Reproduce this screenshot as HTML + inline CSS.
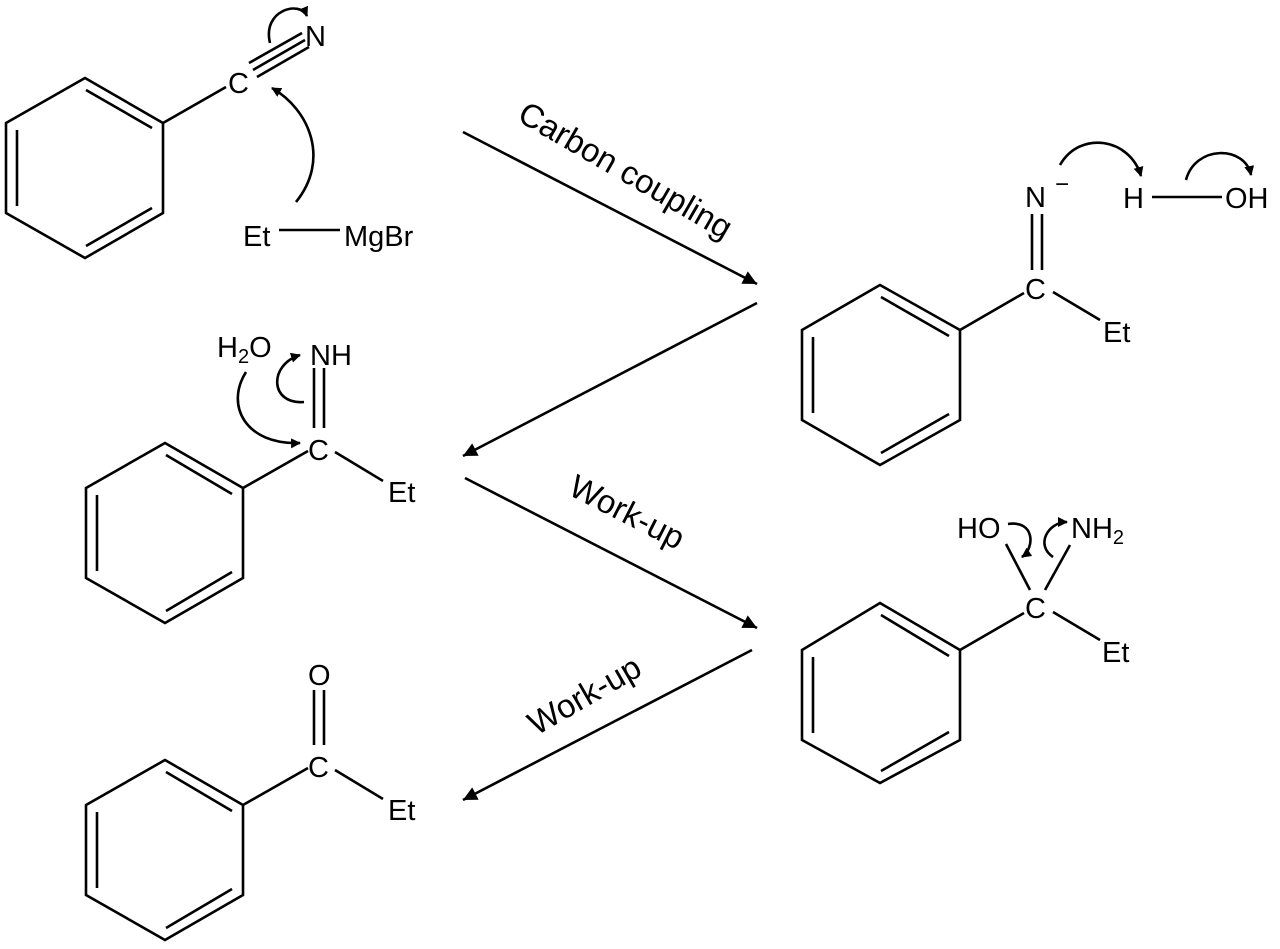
<!DOCTYPE html>
<html><head><meta charset="utf-8"><style>
html,body{margin:0;padding:0;background:#fff;}
svg{display:block;}
text{font-family:"Liberation Sans",Arial,sans-serif;font-size:29px;fill:#000;}
</style></head><body>
<svg width="1280" height="949" viewBox="0 0 1280 949" xmlns="http://www.w3.org/2000/svg">
<defs>
<marker id="ah" viewBox="0 0 10 10" refX="9" refY="5" markerWidth="10" markerHeight="10" markerUnits="userSpaceOnUse" orient="auto"><path d="M0,0 L10,5 L0,10 z" fill="#000"/></marker>
<marker id="big" viewBox="0 0 10 10" refX="10" refY="5" markerWidth="18" markerHeight="14" markerUnits="userSpaceOnUse" orient="auto"><path d="M0,0 L10,5 L0,10 z" fill="#000"/></marker>
</defs>
<g stroke="#000" stroke-width="2.6" fill="none" stroke-linejoin="miter">
<polygon points="85,78 163,123 163,213 85,258 6,213 6,123"/>
<line x1="86" y1="90" x2="152" y2="128"/><line x1="17" y1="130" x2="17" y2="206"/><line x1="86" y1="246" x2="152" y2="208"/>
<line x1="163" y1="123" x2="226" y2="87"/>
<line x1="249" y1="63" x2="302" y2="33"/><line x1="253" y1="70" x2="305" y2="40"/><line x1="257" y1="77" x2="309" y2="47"/>
<line x1="279" y1="230" x2="340" y2="230"/>
<path d="M270,43 C262,10 300,0 307,16" marker-end="url(#ah)"/>
<path d="M296,202 C330,160 310,110 272,88" marker-end="url(#ah)"/>
<polygon points="880,285 960,330 960,420 880,465 802,420 802,330"/>
<line x1="881" y1="297" x2="949" y2="336"/><line x1="813" y1="337" x2="813" y2="413"/><line x1="881" y1="453" x2="949" y2="414"/>
<line x1="960" y1="330" x2="1024" y2="293"/>
<line x1="1053" y1="292" x2="1100" y2="320"/>
<line x1="1032" y1="214" x2="1032" y2="270"/><line x1="1042" y1="214" x2="1042" y2="270"/>
<line x1="1152" y1="197" x2="1222" y2="197"/>
<path d="M1060,165 C1080,130 1130,138 1141,176" marker-end="url(#ah)"/>
<path d="M1186,180 C1195,145 1245,145 1251,175" marker-end="url(#ah)"/>
<polygon points="165,443 243,488 243,578 165,623 86,578 86,488"/>
<line x1="166" y1="455" x2="232" y2="494"/><line x1="97" y1="495" x2="97" y2="571"/><line x1="166" y1="611" x2="232" y2="572"/>
<line x1="243" y1="488" x2="308" y2="451"/>
<line x1="335" y1="452" x2="383" y2="481"/>
<line x1="314" y1="368" x2="314" y2="428"/><line x1="324" y1="368" x2="324" y2="428"/>
<path d="M304,402 C270,405 268,365 300,355" marker-end="url(#ah)"/>
<path d="M246,372 C225,405 245,445 300,443" marker-end="url(#ah)"/>
<polygon points="880,603 960,650 960,740 880,783 802,740 802,650"/>
<line x1="881" y1="615" x2="949" y2="656"/><line x1="813" y1="657" x2="813" y2="733"/><line x1="881" y1="771" x2="949" y2="732"/>
<line x1="960" y1="650" x2="1024" y2="613"/>
<line x1="1053" y1="612" x2="1100" y2="640"/>
<line x1="1006" y1="544" x2="1030" y2="590"/><line x1="1070" y1="545" x2="1045" y2="590"/>
<path d="M1008,524 C1035,520 1035,548 1022,557" marker-end="url(#ah)"/>
<path d="M1053,557 C1035,545 1048,522 1067,522" marker-end="url(#ah)"/>
<polygon points="165,760 243,805 243,895 165,940 86,895 86,805"/>
<line x1="166" y1="772" x2="232" y2="811"/><line x1="97" y1="812" x2="97" y2="888"/><line x1="166" y1="928" x2="232" y2="889"/>
<line x1="243" y1="805" x2="308" y2="768"/>
<line x1="335" y1="770" x2="383" y2="799"/>
<line x1="314" y1="690" x2="314" y2="745"/><line x1="324" y1="690" x2="324" y2="745"/>
<line x1="463" y1="132" x2="757" y2="284" marker-end="url(#big)"/>
<line x1="757" y1="303" x2="463" y2="456" marker-end="url(#big)"/>
<line x1="465" y1="478" x2="757" y2="628" marker-end="url(#big)"/>
<line x1="752" y1="650" x2="463" y2="800" marker-end="url(#big)"/>
</g>
<text x="228" y="93">C</text>
<text x="305" y="46">N</text>
<text x="243" y="246">Et</text>
<text x="344" y="246">MgBr</text>

<text x="1025" y="207">N</text>
<text x="1055" y="192" style="font-size:24px">−</text>
<text x="1123" y="208">H</text>
<text x="1225" y="208">OH</text>
<text x="1025" y="299">C</text>
<text x="1103" y="342">Et</text>

<text x="217" y="357">H<tspan dy="6" style="font-size:20px">2</tspan><tspan dy="-6">O</tspan></text>
<text x="310" y="365">NH</text>
<text x="308" y="460">C</text>
<text x="388" y="502">Et</text>

<text x="957" y="538">HO</text>
<text x="1071" y="538">NH<tspan dy="6" style="font-size:20px">2</tspan></text>
<text x="1025" y="618">C</text>
<text x="1102" y="662">Et</text>

<text x="308" y="685">O</text>
<text x="308" y="777">C</text>
<text x="388" y="820">Et</text>

<text transform="translate(620,180) rotate(30)" text-anchor="middle" style="font-size:33px">Carbon coupling</text>
<text transform="translate(622,522) rotate(27)" text-anchor="middle" style="font-size:33px">Work-up</text>
<text transform="translate(590,705) rotate(-30)" text-anchor="middle" style="font-size:33px">Work-up</text>
</svg>
</body></html>
